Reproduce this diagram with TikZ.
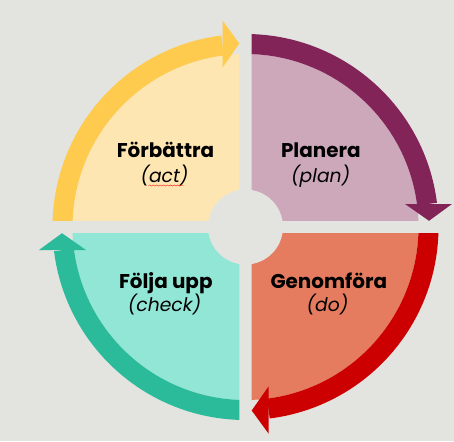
\documentclass[tikz,border=0pt]{standalone}
\usepackage{fontspec}
\setmainfont{Poppins}
\usepackage{tikz}
\usetikzlibrary{positioning}
\usetikzlibrary{decorations.pathmorphing}
\usepackage{xcolor}

\definecolor{bggray}{HTML}{E3E3DF}
\definecolor{actband}{HTML}{FFCB4F}
\definecolor{actfill}{HTML}{FDE6B1}
\definecolor{planband}{HTML}{832458}
\definecolor{planfill}{HTML}{CDA8BB}
\definecolor{doband}{HTML}{CC0000}
\definecolor{dofill}{HTML}{E57C5F}
\definecolor{checkband}{HTML}{2BBB9B}
\definecolor{checkfill}{HTML}{92E6D5}

\tikzset{
  boldlabel/.style={anchor=base, font=\fontsize{17}{20}\selectfont\bfseries},
  itlabel/.style={anchor=base, font=\fontsize{16}{20}\selectfont\itshape},
}

\begin{document}
\begin{tikzpicture}[x=0.03cm,y=0.03cm]

% background
\useasboundingbox (-245.5,-214) rectangle (208.5,227);
\fill[bggray] (-245.5,-214) rectangle (208.5,227);

% planera (top right)
\begin{scope}[rotate=0]
{
\clip (6.2,6.2) rectangle (230,230);
\fill[planfill] (0,0)--(0,173) arc (90:0:173)--cycle;
\fill[planband] (90:173) arc (90:7.2:173)--(7.2:193) arc (7.2:90:193)--cycle;
\fill[planband] (159.5,23)--++(47,0)--(183.5,6.2)--cycle;
}
\end{scope}

% genomfora (bottom right)
\begin{scope}[rotate=-90]
{
\clip (6.2,6.2) rectangle (230,230);
\fill[dofill] (0,0)--(0,173) arc (90:0:173)--cycle;
\fill[doband] (90:173) arc (90:7.2:173)--(7.2:193) arc (7.2:90:193)--cycle;
\fill[doband] (159.5,23)--++(47,0)--(183.5,6.2)--cycle;
}
\end{scope}

% folja upp (bottom left)
\begin{scope}[rotate=-180]
{
\clip (6.2,6.2) rectangle (230,230);
\fill[checkfill] (0,0)--(0,173) arc (90:0:173)--cycle;
\fill[checkband] (90:173) arc (90:7.2:173)--(7.2:193) arc (7.2:90:193)--cycle;
\fill[checkband] (159.5,23)--++(47,0)--(183.5,6.2)--cycle;
}
\end{scope}

% forbattra (top left)
\begin{scope}[rotate=-270]
{
\clip (6.2,6.2) rectangle (230,230);
\fill[actfill] (0,0)--(0,173) arc (90:0:173)--cycle;
\fill[actband] (90:173) arc (90:7.2:173)--(7.2:193) arc (7.2:90:193)--cycle;
\fill[actband] (159.5,23)--++(47,0)--(183.5,6.2)--cycle;
}
\end{scope}

% hub
\fill[bggray] (0,0) circle (37.5);

% labellings
{
\node[boldlabel] (forbattra) at (-80,69.7) {Förbättra};
\node[itlabel] (act) at (-81,44.3) {(act)};
\draw[red, line width=0.3pt, decorate, decoration={snake, amplitude=0.5, segment length=3}] (-97,41.5)--(-62,41.5);

\node[boldlabel] (planera) at (75.3,69.7) {Planera};
\node[itlabel] (plan) at (75.2,44.3) {(plan)};

\node[boldlabel] (foljaupp) at (-79.7,-61.3) {Följa upp};
\node[itlabel] (check) at (-81,-84.7) {(check)};

\node[boldlabel] (genomfora) at (83.3,-61.3) {Genomföra};
\node[itlabel] (do) at (82,-84.7) {(do)};
}

\end{tikzpicture}
\end{document}
